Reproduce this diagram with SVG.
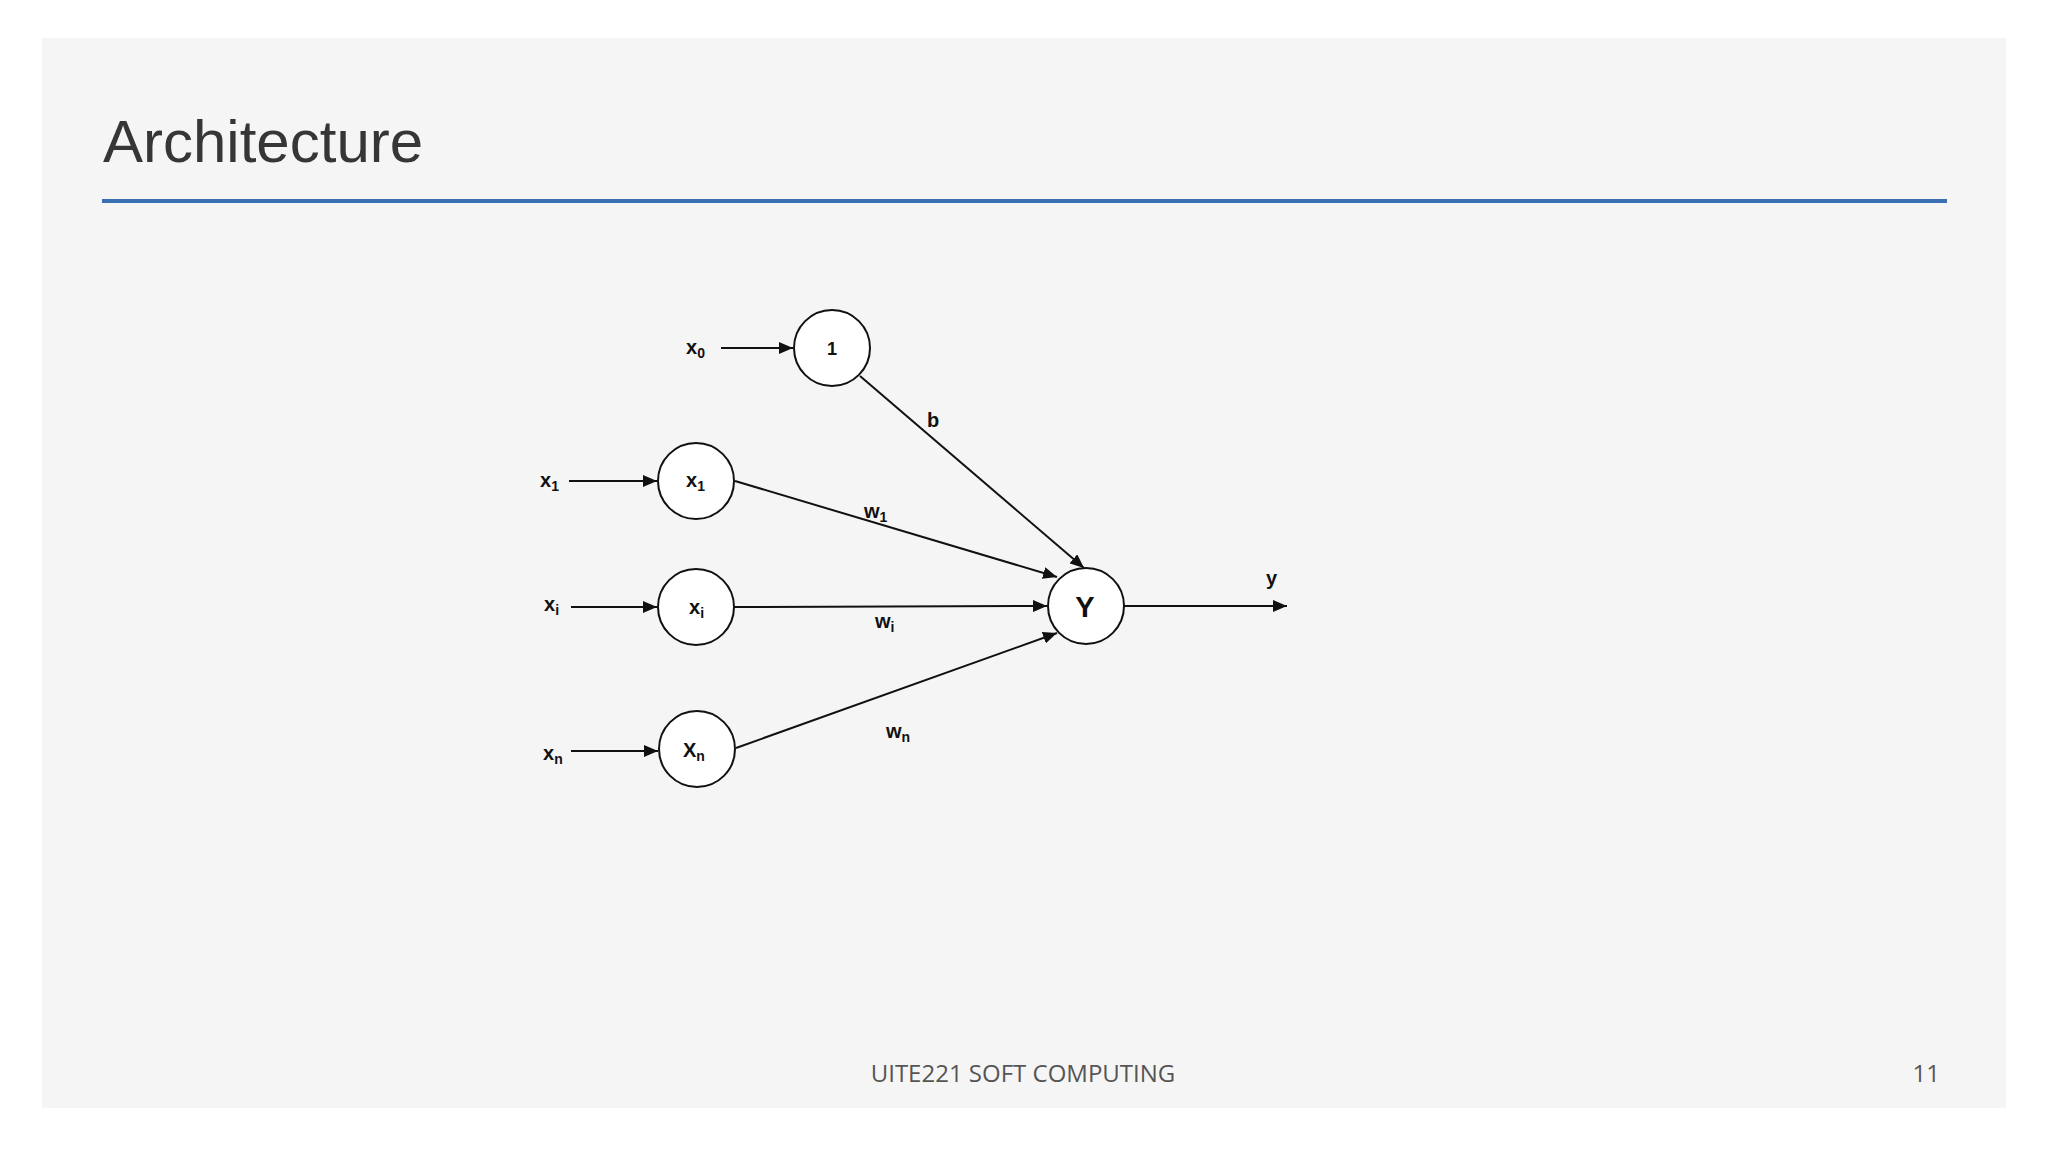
<svg xmlns="http://www.w3.org/2000/svg" width="2048" height="1152" viewBox="0 0 2048 1152">
<style>
.lbl{font-family:"Liberation Sans",Arial,sans-serif;font-weight:bold;font-size:20px;fill:#111}
.sub{font-size:14px}
.node{fill:#fff;stroke:#111;stroke-width:2}
.edge{stroke:#111;stroke-width:2;fill:none}
</style>
<defs>
<marker id="ah" viewBox="0 0 14 12" refX="14" refY="6" markerWidth="14" markerHeight="12" markerUnits="userSpaceOnUse" orient="auto">
<path d="M0,0 L14,6 L0,12 Z" fill="#111"/>
</marker>
</defs>
<rect x="0" y="0" width="2048" height="1152" fill="#ffffff"/>
<rect x="42" y="38" width="1964" height="1070" fill="#f5f5f5"/>
<text x="103" y="162" font-family="Liberation Sans, Arial, sans-serif" font-size="60" fill="#363636">Architecture</text>
<rect x="102" y="199" width="1845" height="4" fill="#3a6fb3"/>
<text x="1023" y="1082" font-family="Open Sans, sans-serif" font-size="24" fill="#555" text-anchor="middle">UITE221 SOFT COMPUTING</text>
<text x="1940" y="1082" font-family="Open Sans, sans-serif" font-size="24" fill="#555" text-anchor="end">11</text>

<g id="connectors">
<line class="edge" x1="721" y1="348" x2="793" y2="348" marker-end="url(#ah)"/>
<line class="edge" x1="569" y1="481" x2="657" y2="481" marker-end="url(#ah)"/>
<line class="edge" x1="571" y1="607" x2="657" y2="607" marker-end="url(#ah)"/>
<line class="edge" x1="571" y1="751" x2="658" y2="751" marker-end="url(#ah)"/>
<line class="edge" x1="860" y1="376" x2="1084" y2="568" marker-end="url(#ah)"/>
<line class="edge" x1="735" y1="481" x2="1057" y2="577" marker-end="url(#ah)"/>
<line class="edge" x1="734" y1="607" x2="1047" y2="606" marker-end="url(#ah)"/>
<line class="edge" x1="736" y1="748" x2="1057" y2="633" marker-end="url(#ah)"/>
<line class="edge" x1="1124" y1="606" x2="1287" y2="606" marker-end="url(#ah)"/>
<text class="lbl" x="927" y="427">b</text>
<text class="lbl" x="864" y="518">w<tspan class="sub" dy="4">1</tspan></text>
<text class="lbl" x="875" y="628">w<tspan class="sub" dy="4">i</tspan></text>
<text class="lbl" x="886" y="738">w<tspan class="sub" dy="4">n</tspan></text>
<text class="lbl" x="1266" y="585">y</text>
</g>

<g id="in-x0"><text class="lbl" x="686" y="354">x<tspan class="sub" dy="4">0</tspan></text></g>
<g id="in-x1"><text class="lbl" x="540" y="487">x<tspan class="sub" dy="4">1</tspan></text></g>
<g id="in-xi"><text class="lbl" x="544" y="611">x<tspan class="sub" dy="4">i</tspan></text></g>
<g id="in-xn"><text class="lbl" x="543" y="760">x<tspan class="sub" dy="4">n</tspan></text></g>

<g id="node-bias"><circle class="node" cx="832" cy="348" r="38"/><text class="lbl" x="832" y="355" style="font-size:18px" text-anchor="middle">1</text></g>
<g id="node-x1"><circle class="node" cx="696" cy="481" r="38"/><text class="lbl" x="686" y="487">x<tspan class="sub" dy="4">1</tspan></text></g>
<g id="node-xi"><circle class="node" cx="696" cy="607" r="38"/><text class="lbl" x="689" y="614">x<tspan class="sub" dy="4">i</tspan></text></g>
<g id="node-xn"><circle class="node" cx="697" cy="749" r="38"/><text class="lbl" x="683" y="757">X<tspan class="sub" dy="4">n</tspan></text></g>
<g id="node-y"><circle class="node" cx="1086" cy="606" r="38"/><text class="lbl" x="1085" y="617" style="font-size:29px" text-anchor="middle">Y</text></g>
</svg>
